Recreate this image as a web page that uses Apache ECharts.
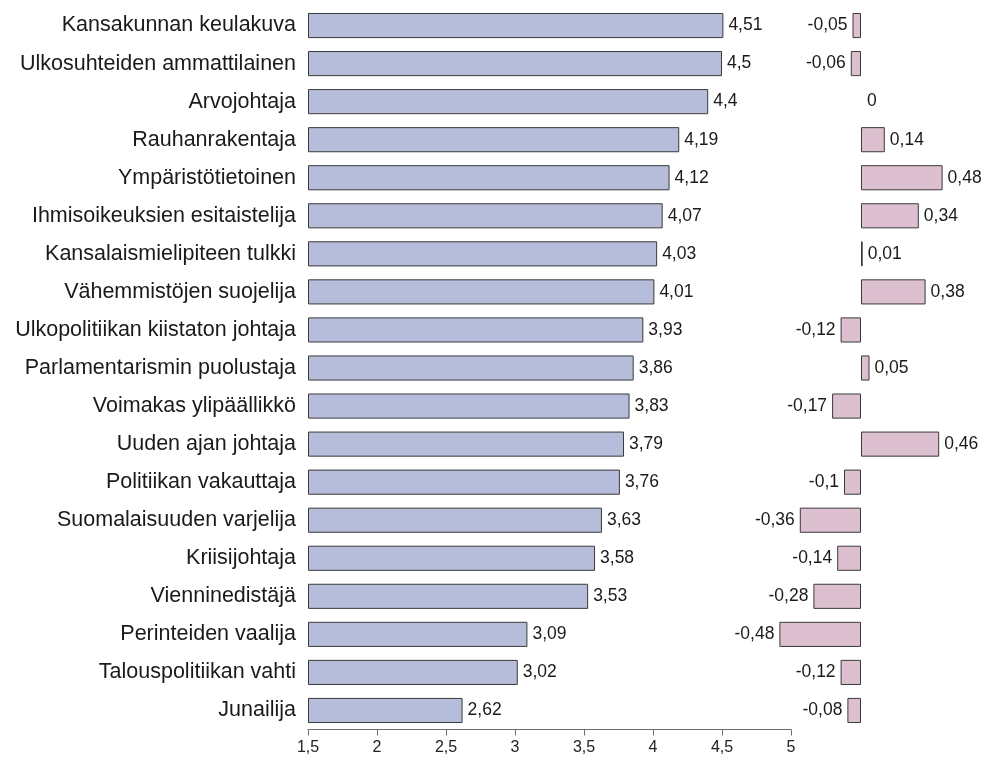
<!DOCTYPE html>
<html>
<head>
<meta charset="utf-8">
<script src="https://cdn.jsdelivr.net/npm/echarts@6/dist/echarts.min.js"></script>
<style>
  html, body { margin: 0; padding: 0; background: #fff; }
  #Echarts { width: 987px; height: 765px; }
</style>
</head>
<body>
<div id="Echarts"></div>
<script>
// kategoriat ylhäältä alas
var categories = [
  "Kansakunnan keulakuva", "Ulkosuhteiden ammattilainen", "Arvojohtaja",
  "Rauhanrakentaja", "Ympäristötietoinen", "Ihmisoikeuksien esitaistelija",
  "Kansalaismielipiteen tulkki", "Vähemmistöjen suojelija",
  "Ulkopolitiikan kiistaton johtaja", "Parlamentarismin puolustaja",
  "Voimakas ylipäällikkö", "Uuden ajan johtaja", "Politiikan vakauttaja",
  "Suomalaisuuden varjelija", "Kriisijohtaja", "Vienninedistäjä",
  "Perinteiden vaalija", "Talouspolitiikan vahti", "Junailija"
];
var scores = [4.51, 4.5, 4.4, 4.19, 4.12, 4.07, 4.03, 4.01, 3.93, 3.86, 3.83, 3.79, 3.76, 3.63, 3.58, 3.53, 3.09, 3.02, 2.62];
var changes = [-0.05, -0.06, 0, 0.14, 0.48, 0.34, 0.01, 0.38, -0.12, 0.05, -0.17, 0.46, -0.1, -0.36, -0.14, -0.28, -0.48, -0.12, -0.08];
var axisMin = 1.5;
var axisTicks = [1.5, 2, 2.5, 3, 3.5, 4, 4.5, 5];

function fi (v) {
    return String(v).replace(".", ",");
}

var myChart = echarts.init(document.getElementById("Echarts"), null, { renderer: "canvas" });

var option = {
    animation: false,
    textStyle: { fontFamily: "Liberation Sans, Arial, sans-serif" },
    grid: [
        { left: 308, right: 196, top: 6.5, bottom: 35.5, outerBoundsMode: "none" },
        { left: 776, right: 41, top: 6.5, bottom: 35.5, outerBoundsMode: "none" }
    ],
    xAxis: [
        {
            gridIndex: 0,
            type: "value",
            min: axisMin,
            max: axisTicks[axisTicks.length - 1],
            interval: 0.5,
            splitLine: { show: false },
            axisLine: { show: true, lineStyle: { color: "#6e6e6e", width: 1 } },
            axisTick: { show: true, length: 6, lineStyle: { color: "#6e6e6e" } },
            axisLabel: {
                color: "#222",
                fontSize: 16,
                margin: 10,
                formatter: function (v) { return fi(v); }
            }
        },
        {
            gridIndex: 1,
            type: "value",
            min: -0.5,
            max: 0.5,
            show: false
        }
    ],
    yAxis: [
        {
            gridIndex: 0,
            type: "category",
            data: categories,
            inverse: true,
            axisLine: { show: false },
            axisTick: { show: false },
            axisLabel: { color: "#1a1a1a", fontSize: 21.5, margin: 12 }
        },
        {
            gridIndex: 1,
            type: "category",
            data: categories,
            inverse: true,
            show: false
        }
    ],
    series: [
        {
            // pohja 1,5:een asti, näkymätön
            type: "bar",
            xAxisIndex: 0,
            yAxisIndex: 0,
            stack: "s",
            silent: true,
            barWidth: "66%",
            itemStyle: { color: "rgba(0,0,0,0)" },
            data: scores.map(function () { return axisMin; })
        },
        {
            type: "bar",
            xAxisIndex: 0,
            yAxisIndex: 0,
            stack: "s",
            barWidth: "66%",
            itemStyle: { color: "#b6bdda", borderColor: "#3a3a3a", borderWidth: 1 },
            label: {
                show: true,
                position: "right",
                distance: 5,
                color: "#1a1a1a",
                fontSize: 17.5,
                formatter: function (p) { return fi(scores[p.dataIndex]); }
            },
            data: scores.map(function (v) { return +(v - axisMin).toFixed(2); })
        },
        {
            type: "bar",
            xAxisIndex: 1,
            yAxisIndex: 1,
            barWidth: "66%",
            data: changes.map(function (v) {
                return {
                    value: v,
                    itemStyle: {
                        color: "#dcc0cf",
                        borderColor: "#3a3a3a",
                        borderWidth: v === 0 ? 0 : 1
                    },
                    label: {
                        show: true,
                        position: v < 0 ? "left" : "right",
                        distance: v === 0 ? 6 : 5,
                        color: "#1a1a1a",
                        fontSize: 17.5,
                        formatter: fi(v)
                    }
                };
            })
        }
    ]
};

myChart.setOption(option);
</script>
</body>
</html>
